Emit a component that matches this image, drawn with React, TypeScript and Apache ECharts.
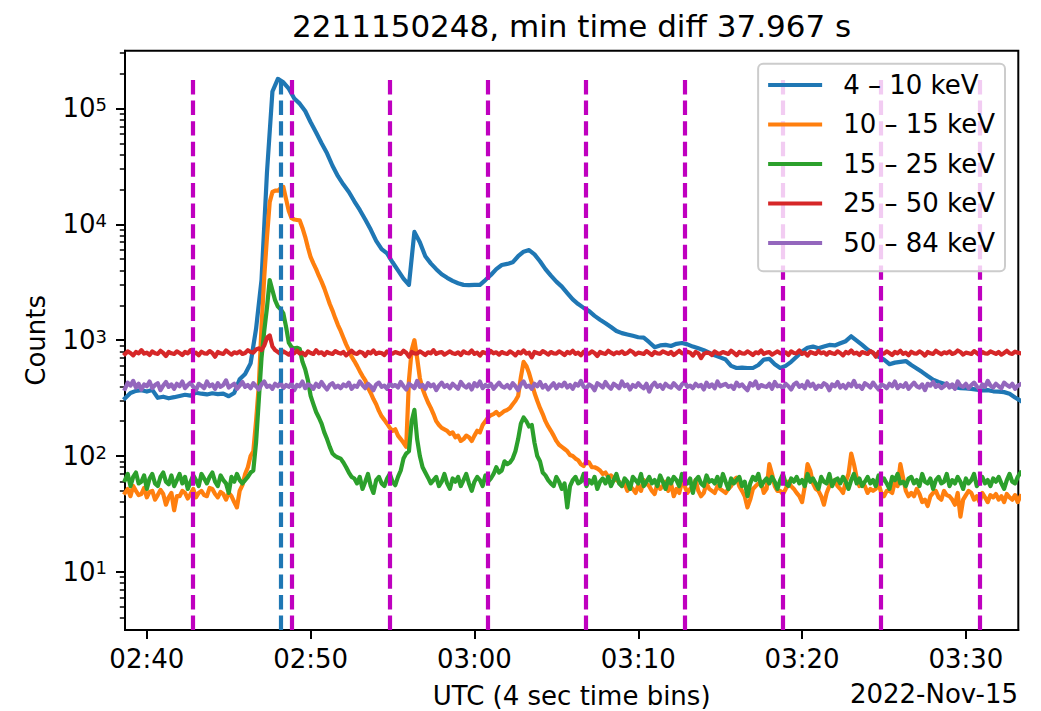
import React, { useEffect, useRef } from "react";
import * as echarts from "echarts";

// ---------- data ----------
const BIN_START = "02:38:40"; // first plotted bin (UTC, 2022-11-15)
const BLUE_BIN_SECONDS = 20; // 4-10 keV read every 20 s
const BIN_SECONDS = 10; // other bands read every 10 s
const X_RANGE = ["02:38:40", "03:33:12"];
const X_TICK_LABELS = ["02:40", "02:50", "03:00", "03:10", "03:20", "03:30"];
const Y_RANGE = [3.15, 315000];
const Y_MAJOR = [10, 100, 1000, 10000, 100000];
const Y_MINOR = [
  4, 5, 6, 7, 8, 9, 20, 30, 40, 50, 60, 70, 80, 90, 200, 300, 400, 500, 600, 700, 800, 900,
  2000, 3000, 4000, 5000, 6000, 7000, 8000, 9000, 20000, 30000, 40000, 50000, 60000, 70000,
  80000, 90000, 200000, 300000,
];
const BAND_NAMES = ["4 – 10 keV", "10 – 15 keV", "15 – 25 keV", "25 – 50 keV", "50 – 84 keV"];
const BAND_COLORS = ["#1f77b4", "#ff7f0e", "#2ca02c", "#d62728", "#9467bd"];

const COUNTS_4_10 = [
  315, 350, 365, 370, 360, 372, 318, 325, 315, 322,
  330, 338, 332, 352, 345, 340, 348, 342, 345, 328,
  350, 460, 510, 630, 1250, 3300, 28000, 140000, 180000, 168000,
  148000, 122000, 110000, 95000, 76000, 62000, 50000, 41000, 32000, 26000,
  22000, 19000, 15800, 13300, 11000, 9000, 7200, 6100, 5600, 4700,
  4000, 3400, 3000, 8600, 7000, 5300, 4600, 4100, 3700, 3450,
  3250, 3100, 3000, 2990, 3000, 3000, 3300, 3650, 4100, 4450,
  4550, 4700, 5300, 5800, 5990, 5500, 4800, 4100, 3600, 3200,
  2900, 2550, 2250, 2050, 1900, 1780, 1620, 1500, 1400, 1300,
  1200, 1150, 1120, 1090, 1060, 1050, 960, 870, 900, 910,
  890, 930, 945, 920, 880, 850, 820, 780, 740, 710,
  680, 600, 575, 580, 575, 575, 610, 680, 690, 620,
  575, 600, 650, 720, 800, 860, 880, 850, 880, 910,
  900, 940, 980, 1080, 990, 910, 830, 775, 720, 680,
  620, 640, 650, 660, 610, 570, 530, 490, 455, 435,
  420, 405, 392, 386, 384, 380, 374, 368, 370, 362,
  360, 356, 345, 320, 300,
];
const COUNTS_10_15 = [
  48, 52, 45, 55, 50, 46, 47, 53, 44, 49, 50, 42, 46, 51, 47, 38, 44, 48, 34, 45,
  45, 50, 48, 43, 47, 52, 44, 48, 50, 46, 45, 53, 52, 47, 44, 49, 47, 42, 48, 45,
  40, 36, 50, 56,
  70, 80, 100, 110, 200, 400, 1300, 3500, 7700, 15500, 19000, 19500, 19500, 20500, 21000, 16500,
  13000, 11300, 11000, 10900, 10800, 9300, 7800, 6300, 5200, 4600, 4100, 3600, 3200, 2800, 2400, 2050, 1800, 1550, 1350, 1200,
  1050, 920, 820, 720, 660, 600, 540, 490, 450, 390, 350, 310, 280, 245, 220, 205, 190, 175, 165, 170,
  150, 140, 130, 120, 450, 820, 1000, 700, 470, 380, 330, 290, 260, 230, 200, 185, 175, 170, 165, 155,
  160, 145, 150, 135, 140, 150, 145, 135, 150, 165, 160, 185, 200, 215, 225, 230, 240, 225, 235, 245,
  250, 260, 280, 300, 330, 480, 650, 600, 520, 430, 350, 300, 260, 230, 200, 180, 165, 150, 135, 125,
  120, 115, 110, 102, 100, 95, 92, 85, 82, 90, 88, 80, 80, 78, 75, 70, 72, 66, 68, 64, 62,
  60, 55, 58, 50, 55, 52, 48, 56, 50, 62, 58, 55, 50, 47, 58, 52, 55, 60, 50,
  58, 45, 52, 48, 60, 55, 48, 52, 55, 62, 50, 45, 48, 58, 52, 50, 48, 55, 52, 50,
  48, 52, 55, 62, 65, 55, 50, 45, 36, 42, 52, 55, 58, 60, 48, 52, 85, 70, 55, 50,
  50, 47, 52, 60, 55, 52, 48, 45, 40, 55, 85, 75, 58, 52, 50, 45, 38, 48, 55, 60,
  62, 55, 52, 48, 60, 70, 105, 85, 65, 55, 58, 55, 48, 52, 50, 52, 58, 48, 45, 50,
  50, 48, 60, 55, 85, 65, 50, 45, 48, 45, 52, 47, 40, 42, 37, 45, 48, 50, 44, 42,
  50, 46, 45, 42, 38, 48, 30, 42, 46, 50, 48, 42, 45, 40, 48, 44, 40, 46, 44, 47,
  42, 45, 40, 47, 44, 42, 46, 40, 45,
];
const COUNTS_15_25 = [
  62, 70, 55, 66, 72, 58, 60, 68, 52, 64, 70, 58, 55, 66, 72, 60, 57, 68, 55, 62,
  70, 58, 66, 52, 60, 68, 62, 55, 70, 64, 58, 66, 72, 60, 55, 68, 62, 58, 48, 66,
  60, 70, 62, 58,
  62, 66, 72, 75, 130, 300, 700, 1200, 1900, 3300, 2700, 2200, 1950, 1850, 1700, 1300, 950, 870, 850, 860,
  840, 650, 560, 450, 330, 280, 240, 215, 190, 160, 140, 120, 105, 100, 97, 95, 88, 80, 72, 66,
  64,
  58, 66, 52, 60, 70, 55, 48, 62, 66, 58, 55, 64, 70, 60, 56, 66, 75,
  95, 105, 110, 200, 250, 140, 100, 80, 72, 65,
  58, 62, 66, 55, 60, 70, 58, 52, 64, 60, 66, 55, 62, 70, 58, 50, 60, 66, 62, 55, 68, 60, 64,
  70, 80, 72, 75, 90, 85, 88, 95, 110, 140, 190, 215, 200, 180, 185, 130, 100, 90, 72, 68,
  62, 58, 55, 66, 60, 52, 58, 36, 55, 62, 66, 58, 60, 70, 55, 62, 58, 66, 52, 60,
  64, 58, 66, 55, 62, 70, 58, 55, 64, 60, 52, 66, 62, 58, 70, 55, 60, 66, 58, 62,
  55, 68, 60, 52, 64, 58, 66, 62, 55, 70, 60, 58, 64, 48, 62, 66, 58, 55, 68, 60,
  62, 58, 66, 55, 70, 60, 52, 64, 58, 62, 66, 55, 60, 45, 58, 66, 62, 70, 55, 60,
  64, 58, 66, 60, 52, 62, 70, 58, 55, 64, 60, 66, 58, 62, 55, 70, 60, 64, 58, 52,
  66, 60, 58, 70, 55, 62, 64, 58, 66, 60, 52, 62, 70, 58, 64, 55, 60, 66, 58, 62,
  55, 68, 60, 64, 58, 52, 66, 62, 70, 58, 60, 55, 64, 66, 58, 62, 55, 70, 60, 58,
  64, 52, 62, 66, 58, 60, 70, 55, 62, 58, 66, 60, 52, 64, 58, 62, 70, 55, 60, 66,
  58, 62, 55, 64, 60, 66, 58, 52, 62, 70, 60, 58, 66, 72,
];
const COUNTS_25_50 = [
  760, 800, 775, 740, 790, 770, 820, 765, 780, 745, 800, 770, 760, 810, 775, 730, 790, 770, 760, 800,
  775, 745, 790, 770, 820, 760, 780, 740, 795, 770, 765, 805, 775, 720, 790, 770, 760, 815, 780, 750,
  785, 770, 800, 760, 775, 820, 790, 780, 830, 850, 820, 900, 1050, 1100, 880, 820, 790, 760, 800, 775,
  750, 790, 770, 810, 765, 780, 740, 800, 775, 760, 820, 770, 785, 745, 790, 770, 760, 805, 780, 765,
  790, 740, 775, 810, 770, 760, 795, 780, 730, 790, 770, 815, 760, 780, 775, 745, 800, 770, 765, 790,
  775, 760, 810, 780, 720, 790, 770, 765, 800, 775, 745, 785, 770, 820, 760, 780, 790, 750, 775, 800,
  770, 760, 785, 745, 800, 775, 770, 815, 760, 780, 735, 790, 775, 760, 805, 770, 785, 750, 790, 770,
  760, 800, 775, 740, 790, 770, 815, 765, 780, 710, 790, 775, 760, 805, 780, 750, 790, 770, 765, 800,
  775, 745, 790, 770, 810, 760, 780, 740, 795, 770, 765, 800, 775, 730, 790, 770, 760, 810, 780, 755,
  785, 770, 800, 760, 775, 815, 790, 750, 780, 770, 760, 805, 775, 745, 790, 770, 765, 800, 780, 760,
  790, 745, 775, 810, 770, 760, 795, 780, 735, 790, 770, 700, 760, 780, 775, 745, 800, 770, 765, 790,
  775, 760, 810, 780, 740, 790, 770, 765, 800, 775, 745, 785, 770, 815, 760, 780, 790, 750, 775, 800,
  770, 760, 785, 745, 800, 775, 770, 815, 760, 780, 735, 790, 775, 760, 805, 770, 785, 750, 790, 770,
  760, 800, 775, 740, 790, 770, 815, 765, 780, 745, 790, 775, 760, 805, 780, 720, 790, 770, 765, 800,
  775, 745, 790, 770, 810, 760, 780, 740, 795, 770, 765, 800, 775, 735, 790, 770, 760, 810, 780, 755,
  785, 770, 800, 760, 775, 815, 790, 750, 780, 770, 760, 805, 775, 745, 790, 770, 765, 800, 780, 760,
  790, 750, 775, 810, 770, 760, 795, 780, 770,
];
const COUNTS_50_84 = [
  380, 430, 405, 445, 390, 420, 375, 415, 400, 440, 385, 410, 425, 370, 405, 435, 395, 415, 380, 420,
  400, 440, 385, 410, 430, 395, 370, 420, 405, 385, 440, 400, 415, 380, 425, 395, 410, 450, 390, 405,
  420, 380, 405, 435, 395, 410, 385, 425, 400, 375, 415, 440, 395, 405, 380, 420, 400, 430, 385, 410,
  395, 425, 370, 410, 400, 440, 385, 415, 405, 380, 420, 395, 435, 400, 375, 410, 425, 390, 405, 385,
  415, 400, 430, 380, 405, 395, 440, 410, 385, 420, 400, 370, 415, 430, 395, 405, 380, 425, 400, 410,
  390, 435, 400, 375, 420, 405, 385, 445, 395, 410, 380, 425, 400, 415, 370, 405, 430, 395, 410, 385,
  420, 400, 380, 435, 405, 390, 415, 375, 425, 400, 440, 385, 410, 395, 420, 380, 405, 430, 400, 390,
  410, 385, 425, 400, 370, 415, 440, 395, 405, 380, 420, 400, 435, 390, 410, 375, 400, 425, 385, 415,
  400, 430, 390, 410, 380, 420, 405, 445, 395, 385, 415, 400, 370, 425, 410, 390, 435, 400, 380, 420,
  405, 385, 440, 400, 415, 375, 410, 395, 425, 400, 385, 420, 360, 405, 430, 395, 410, 380, 420, 400,
  390, 425, 400, 380, 415, 435, 395, 405, 385, 420, 400, 410, 375, 430, 395, 415, 385, 440, 400, 410,
  420, 395, 405, 380, 430, 400, 415, 390, 370, 425, 405, 440, 385, 410, 400, 395, 420, 380, 435, 400,
  405, 385, 420, 400, 375, 415, 430, 395, 410, 385, 440, 400, 420, 380, 405, 395, 425, 410, 370, 415,
  400, 435, 390, 410, 385, 420, 400, 445, 395, 405, 380, 425, 410, 390, 430, 400, 375, 415, 405, 385,
  420, 400, 440, 385, 410, 395, 425, 380, 405, 430, 400, 390, 415, 370, 420, 405, 435, 395, 410, 385,
  400, 425, 390, 415, 380, 440, 405, 395, 420, 385, 410, 430, 400, 375, 415, 395, 445, 405, 390, 420,
  400, 385, 430, 410, 395, 420, 380, 405, 415,
];

const PEAK_TIME = "02:48:11";
const MARKER_TIMES = [
  "02:42:49", "02:48:49", "02:54:49", "03:00:49", "03:06:49",
  "03:12:49", "03:18:49", "03:24:49", "03:30:49",
];
const VLINE_TOP = 187000;

const TITLE = "2211150248, min time diff 37.967 s";
const X_NAME = "UTC (4 sec time bins)";
const DATE_LABEL = "2022-Nov-15";
const Y_NAME = "Counts";

// ---------- helpers ----------
const hms = (s: string) => {
  const [h, m, sec] = s.split(":").map(Number);
  return Date.UTC(2022, 10, 15, h, m, sec || 0);
};
const pad2 = (n: number) => String(n).padStart(2, "0");
const FONT = "DejaVu Sans";
const LINE_W = 4.2;

export default function App() {
  const ref = useRef<HTMLDivElement>(null);

  useEffect(() => {
    if (!ref.current) return;
    const chart = echarts.init(ref.current, null, { renderer: "svg" });
    const t0 = hms(BIN_START);
    const bands = [COUNTS_4_10, COUNTS_10_15, COUNTS_15_25, COUNTS_25_50, COUNTS_50_84];
    const steps = [BLUE_BIN_SECONDS, BIN_SECONDS, BIN_SECONDS, BIN_SECONDS, BIN_SECONDS];
    const lineSeries: any[] = bands.map((vals, k) => ({
      name: BAND_NAMES[k],
      type: "line",
      data: vals.map((v, i) => [t0 + i * steps[k] * 1000, v]),
      showSymbol: false,
      symbol: "none",
      clip: true,
      silent: true,
      z: 2,
      itemStyle: { color: BAND_COLORS[k] },
      lineStyle: { color: BAND_COLORS[k], width: LINE_W, join: "round", cap: "square" },
      emphasis: { disabled: true },
    }));

    const vlineStyle = (color: string) => ({
      color,
      width: LINE_W,
      type: [14.4, 6.2],
      opacity: 1,
    });
    const vlines = [
      [
        { coord: [hms(PEAK_TIME), Y_RANGE[0]], lineStyle: vlineStyle("#1f77b4") },
        { coord: [hms(PEAK_TIME), VLINE_TOP] },
      ],
      ...MARKER_TIMES.map((t) => [
        { coord: [hms(t), Y_RANGE[0]], lineStyle: vlineStyle("#bf00bf") },
        { coord: [hms(t), VLINE_TOP] },
      ]),
    ];
    lineSeries.push({
      name: "vlines",
      type: "line",
      data: [],
      silent: true,
      z: 3,
      markLine: {
        silent: true,
        symbol: ["none", "none"],
        label: { show: false },
        emphasis: { disabled: true },
        lineStyle: vlineStyle("#bf00bf"),
        data: vlines,
      },
    });

    const option: any = {
      animation: false,
      backgroundColor: "#ffffff",
      textStyle: { fontFamily: FONT, color: "#000" },
      grid: {
        left: 125,
        right: 22.7,
        top: 50.7,
        bottom: 81,
        show: true,
        borderColor: "#000",
        borderWidth: 2,
        backgroundColor: "transparent",
        containLabel: false,
        outerBoundsMode: "none",
      },
      legend: {
        data: BAND_NAMES,
        orient: "vertical",
        right: 36,
        top: 63.7,
        padding: [8, 10, 15, 10],
        itemGap: 13,
        itemWidth: 54,
        itemHeight: 4,
        icon: "rect",
        selectedMode: false,
        backgroundColor: "rgba(255,255,255,0.8)",
        borderColor: "#cccccc",
        borderWidth: 2,
        borderRadius: 5,
        z: 10,
        textStyle: {
          fontSize: 26,
          fontFamily: FONT,
          color: "#000",
          lineHeight: 26.5,
          padding: [0, 0, 0, 16],
        },
      },
      xAxis: {
        type: "value",
        min: hms(X_RANGE[0]),
        max: hms(X_RANGE[1]),
        axisLine: { show: true, onZero: false, lineStyle: { color: "#000", width: 2 } },
        axisTick: {
          show: true,
          length: 9,
          lineStyle: { color: "#000", width: 2 },
          customValues: X_TICK_LABELS.map(hms),
        },
        axisLabel: {
          show: true,
          customValues: X_TICK_LABELS.map(hms),
          formatter: (v: number) => {
            const d = new Date(v);
            return `${pad2(d.getUTCHours())}:${pad2(d.getUTCMinutes())}`;
          },
          color: "#000",
          fontSize: 26,
          fontFamily: FONT,
          margin: 16,
          hideOverlap: false,
        },
        splitLine: { show: false },
        minorTick: { show: false },
        name: X_NAME,
        nameLocation: "middle",
        nameGap: 53,
        nameTextStyle: { fontSize: 26, fontFamily: FONT, color: "#000" },
      },
      yAxis: [
        {
          type: "log",
          logBase: 10,
          min: Y_RANGE[0],
          max: Y_RANGE[1],
          position: "left",
          axisLine: { show: true, lineStyle: { color: "#000", width: 2 } },
          axisTick: {
            show: true,
            length: 9,
            lineStyle: { color: "#000", width: 2 },
            customValues: Y_MAJOR,
          },
          axisLabel: {
            show: true,
            customValues: Y_MAJOR,
            margin: 18,
            color: "#000",
            formatter: (v: number) => `{b|10}{s|${Math.round(Math.log10(v))}}`,
            rich: {
              b: {
                fontSize: 26,
                fontFamily: FONT,
                color: "#000",
                lineHeight: 26,
                padding: [4, 0, 0, 0],
                verticalAlign: "bottom",
              },
              s: {
                fontSize: 18,
                fontFamily: FONT,
                color: "#000",
                lineHeight: 18,
                verticalAlign: "top",
              },
            },
          },
          splitLine: { show: false },
          minorTick: { show: false },
          name: Y_NAME,
          nameLocation: "middle",
          nameGap: 76,
          nameTextStyle: { fontSize: 26, fontFamily: FONT, color: "#000" },
        },
        {
          type: "log",
          logBase: 10,
          min: Y_RANGE[0],
          max: Y_RANGE[1],
          position: "left",
          axisLine: { show: false },
          axisTick: {
            show: true,
            length: 5.2,
            lineStyle: { color: "#000", width: 1.5 },
            customValues: Y_MINOR,
          },
          axisLabel: { show: false },
          splitLine: { show: false },
        },
      ],
      graphic: [
        {
          type: "text",
          x: 571.6,
          y: 26,
          z: 20,
          style: {
            text: TITLE,
            fontSize: 31,
            fontFamily: FONT,
            fill: "#000",
            align: "center",
            verticalAlign: "middle",
          },
        },
        {
          type: "text",
          x: 1018,
          y: 694,
          z: 20,
          style: {
            text: DATE_LABEL,
            fontSize: 26,
            fontFamily: FONT,
            fill: "#000",
            align: "right",
            verticalAlign: "middle",
          },
        },
      ],
      series: lineSeries,
    };
    chart.setOption(option);
    return () => chart.dispose();
  }, []);

  return (
    <div
      ref={ref}
      style={{ position: "fixed", left: 0, top: 0, width: 1041, height: 711 }}
    />
  );
}
